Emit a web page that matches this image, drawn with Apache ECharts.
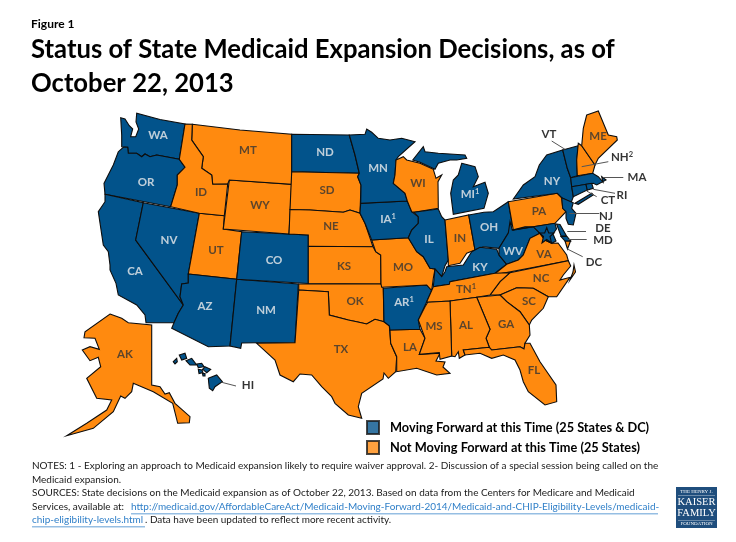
<!DOCTYPE html>
<html>
<head>
<meta charset="utf-8">
<title>Status of State Medicaid Expansion Decisions</title>
<script src="https://cdn.jsdelivr.net/npm/echarts@6/dist/echarts.min.js"></script>
<style>
  html, body { margin: 0; padding: 0; background: #fff; }
  #chart { width: 736px; height: 542px; }
</style>
</head>
<body>
<div id="chart"></div>
<script>
// state status
var movingForward = ['WA', 'OR', 'CA', 'NV', 'AZ', 'NM', 'CO', 'ND', 'MN', 'IA', 'AR', 'IL', 'MI', 'OH', 'KY', 'WV',
  'MD', 'DE', 'NJ', 'NY', 'VT', 'MA', 'RI', 'CT', 'HI', 'DC'];
var notMovingForward = ['AK', 'ID', 'MT', 'WY', 'UT', 'SD', 'NE', 'KS', 'OK', 'TX', 'MO', 'LA', 'WI', 'IN', 'TN', 'MS',
  'AL', 'GA', 'FL', 'SC', 'NC', 'VA', 'PA', 'NH', 'ME'];
var footnotes = { IA: 1, MI: 1, AR: 1, TN: 1, NH: 2 };
var outsideLabels = ['VT', 'NH', 'MA', 'RI', 'CT', 'NJ', 'DE', 'MD', 'DC', 'HI'];

var movingName = 'Moving Forward at this Time (25 States & DC)';
var notMovingName = 'Not Moving Forward at this Time (25 States)';

// outlines, in page pixels
var stateShapes = {
  WA: [[[120.7,117.7],[125,119],[129.3,125.7],[132.7,129],[130.7,136.7],[135.7,136.7],[138.7,129],[136,122],[136.7,113.3],[160,119.5],[185,124],[179.3,159.3],[156.7,155],[150,156.7],[145,154],[141.7,156.7],[136.7,153.3],[128.3,153.3],[127.7,147.3],[121.7,146.7],[121.7,135]]],
  OR: [[[123.3,147.3],[127.7,147.3],[128.3,153.3],[136.7,153.3],[141.7,156.7],[145,154],[150,156.7],[156.7,155],[179.3,159.3],[185,167.3],[177.3,175],[177.3,185],[170.7,206.7],[105,194.3],[104,183.3],[113.3,165],[118.3,151.7]]],
  CA: [[[105,194.3],[143.3,202.7],[135.7,240],[183.3,305],[178.3,313.3],[174,322.7],[146,322.7],[145,315],[136.7,305],[118.3,295],[116,283.3],[110,270],[110,265],[108.3,251.7],[103.3,245],[98.3,211.7],[105,201.7]]],
  NV: [[[143.3,202.7],[199.3,213.3],[188.3,274],[188.3,283],[181.7,284],[180,296.7],[183.3,305],[135.7,240]]],
  UT: [[[199.3,213.3],[224.3,215.7],[223.3,229],[241.7,231.7],[236.7,279.3],[188.3,274]]],
  AZ: [[[188.3,274],[236.7,279.3],[230,346],[208.3,346.7],[171.7,328.3],[174,322.7],[178.3,313.3],[183.3,305],[180,296.7],[181.7,284],[188.3,283]]],
  NM: [[[236.7,279.3],[298.3,284],[295,342.7],[256.7,342.7],[241.7,343],[240.7,348.3],[230,346]]],
  CO: [[[241.7,231.7],[308.3,235],[308.3,283.5],[236.7,279.3]]],
  WY: [[[229.3,180],[291.7,184.3],[289,234],[223.3,229]]],
  MT: [[[192.3,124.3],[240,130],[291.7,134.3],[291.7,184.3],[229.3,180],[227.7,184],[212.7,184.3],[211.7,175],[201.7,168.3],[203.3,156.7],[191.7,140]]],
  ID: [[[185,124],[192.3,124.3],[191.7,140],[203.3,156.7],[201.7,168.3],[211.7,175],[212.7,184.3],[227.7,184],[224.3,215.7],[199.3,213.3],[170.7,206.7],[177.3,185],[177.3,175],[185,167.3],[179.3,159.3]]],
  ND: [[[291.7,134.3],[349.3,135],[355,155],[359.3,173.3],[291.7,171.7]]],
  SD: [[[291.7,171.7],[359.3,173.3],[357.7,176.7],[361,185],[360,213.3],[350,210],[343.3,212.3],[310,210],[290,209.5]]],
  NE: [[[290,209.5],[310,210],[343.3,212.3],[350,210],[360,213.3],[365,223.3],[373,246.7],[308.3,246.3],[308.3,235],[289,234]]],
  KS: [[[308.3,246.3],[373,246.7],[375.7,251.7],[380.7,255],[381,284],[308.3,283.5]]],
  OK: [[[298.7,284],[381,284],[383.3,288.3],[384,321.7],[375,319.3],[366.7,324],[356.7,321.7],[348.3,320],[329.3,315],[328.3,291.7],[298.7,290]]],
  TX: [[[298.7,290],[328.3,291.7],[329.3,315],[348.3,320],[356.7,321.7],[366.7,324],[375,319.3],[384,321.7],[389.3,325.7],[390.7,343.3],[396.7,356.7],[395.7,371.7],[388.3,378.3],[384,373],[383,379],[361.7,393.3],[358.3,406.7],[361.7,418.3],[348.3,415],[335,403.3],[331.7,396.7],[321.7,386.7],[311.7,375],[300,374],[293.3,381.7],[280,375],[275,360],[256.7,343.3],[295,342.7]]],
  LA: [[[390,330],[420,329.3],[425,338.3],[419.3,354.3],[440,353.3],[436,361],[445,362],[443,367],[450,373.3],[436.7,375],[416.7,368.3],[396.7,371.7],[396.7,356.7],[390.7,343.3]]],
  AR: [[[383.3,288.3],[426.7,285],[431.7,290.5],[426.7,301.7],[418.3,320],[420,329.3],[390,330],[389.3,325.7],[384,321.7]]],
  MO: [[[371.7,240],[408.3,237.7],[416.7,251.7],[423.3,256.7],[430,268.3],[435,269],[433.3,278.3],[431.7,290.5],[426.7,285],[381.7,287.3],[381,284],[380.7,255],[375.7,251.7]]],
  IA: [[[360.7,203.3],[407.3,201],[411.7,211.7],[418.3,216.7],[418.3,223.3],[411.7,230],[408.3,237.7],[371.7,240],[365,223.3],[360,213.3]]],
  MN: [[[349.3,135],[365,134.3],[366.7,129],[371.7,132.3],[378.3,138.3],[390,140],[401.7,138.3],[415,141.7],[398.3,156.7],[396,160],[395,175],[393.3,183.3],[405,193.3],[407.3,201],[360.7,203.3],[361,185],[357.7,176.7],[359.3,173.3],[355,155]]],
  WI: [[[396,160],[403.3,156.7],[406.7,160],[420,163.3],[433.3,169.3],[436,178.3],[441.7,175],[438,181.7],[438.3,208.3],[414,212.3],[411.7,211.7],[407.3,201],[405,193.3],[393.3,183.3],[395,175]]],
  MI: [[[412.7,160],[423.3,146.7],[425,151.7],[438.3,153.3],[465,155],[466.7,158.3],[456.7,160],[450,160],[438.3,163.3],[435,169.3],[420,162.3]],
       [[461.7,163.3],[475,166.7],[478.3,176.7],[473.3,186.7],[485,182.3],[488.3,193.3],[484,208.3],[453.3,214.3],[450.7,193.3],[453.3,180],[458.3,175]]],
  IL: [[[414,212.3],[438.3,209],[441.7,216.7],[445,220],[448.3,260],[445,265.7],[441.7,276.7],[435,269],[430,268.3],[423.3,256.7],[416.7,251.7],[408.3,237.7],[411.7,230],[418.3,223.3],[418.3,216.7]]],
  IN: [[[445,220],[468.7,215],[475,250],[466.7,253.3],[460,263.3],[448.3,265.7],[448.3,260]]],
  OH: [[[468.7,215],[484,212.3],[493.3,211.7],[508.3,201.7],[512,223],[508.3,233],[499,248.3],[483.3,246.7],[475,250]]],
  KY: [[[441.7,276.7],[445,271.7],[446.7,266.7],[463.3,265],[471.7,251.7],[480,247.3],[496.7,249.3],[499,255],[506.7,264.3],[495,273.3],[450,281.7],[449.3,284.3],[433.3,286.7],[435,269]]],
  WV: [[[499,248.3],[508.3,233],[510,221.7],[512.3,230],[525,226.7],[533.3,226.7],[540,233.3],[530,238.3],[523.3,255],[518.3,260],[506.7,264.3],[499,255]]],
  VA: [[[493.3,275],[506.7,264.3],[518.3,260],[523.3,255],[530,238.3],[540,233.3],[545,240],[551.7,243.3],[558,243],[561.7,248],[566.7,255],[568.3,260.7]],
       [[565,241],[570.5,241],[567.5,249]]],
  NC: [[[490,295],[500,281.7],[510,272.7],[568.3,260.7],[570.7,266],[563.3,275],[560,280],[570,277.3],[556.7,296.7],[548.3,296.7],[533.3,288.3],[516.7,287.7],[500,295]],
       [[574,265],[575.5,272],[570,280],[569,279],[573,272]]],
  TN: [[[431.7,290.5],[433.3,286.7],[449.3,284.3],[450,281.7],[495,273.3],[510,272.7],[500,281.7],[490,295],[476.7,297.3],[450,301],[427.7,302.3],[426.7,301.7]]],
  SC: [[[500,295],[516.7,287.7],[533.3,288.3],[548.3,296.7],[543.3,308.3],[531.7,320],[529.3,325],[520,311.7],[506.7,301.7]]],
  GA: [[[476.7,297.3],[500,295],[506.7,301.7],[520,311.7],[529.3,325],[530,335],[525,343.3],[524,349],[520,346.7],[491.7,350],[489.3,347.3],[486,338.3],[490,329.3]]],
  AL: [[[450,301],[476.7,297.3],[490,329.3],[486,338.3],[489.3,347.3],[463.3,350],[465,355],[459.3,358.3],[458.3,351.7],[455,356.7],[451.7,356]]],
  MS: [[[427.7,302.3],[450,301],[451.7,356],[440,359.3],[439.3,352.7],[419.3,354.3],[425,338.3],[418.3,320],[425,306.7]]],
  FL: [[[463.3,350],[489.3,347.3],[491.7,350],[520,346.7],[524,349],[525,343.3],[530,343.3],[540,361.7],[556,385],[556.7,401.7],[545,405],[528.3,391.7],[523.3,381.7],[520,370],[515,360],[503.3,355],[491.7,358.3],[480,353.3],[465,355]]],
  PA: [[[508.3,201.7],[557.3,193.3],[561.7,197.7],[562.7,208.3],[566,211.7],[555,223.3],[513.3,230]]],
  NY: [[[513.3,199],[523.3,185],[535,176.7],[539.3,165],[546.7,155],[562.7,150],[567.3,168.3],[570.7,177.7],[571.7,186.7],[573.3,196.7],[571,203],[561.7,197.7],[557.3,193.3]],
       [[575,203.3],[591.7,193.3],[593.3,195],[578.3,204.3]]],
  VT: [[[562.7,150],[578.3,145.7],[576.7,160],[577.3,175.7],[570.7,177.7],[567.3,168.3]]],
  NH: [[[578.3,143.3],[581.7,145.7],[595,165],[592.7,173.3],[577.3,175.7],[576.7,160]]],
  ME: [[[586.7,115],[598.3,111],[608.3,135],[616.7,136.7],[617.3,140],[598.3,158.3],[595,165],[581.7,145.7],[583.3,128.3]]],
  MA: [[[570.7,177.7],[592.7,173.3],[598.3,176.7],[603,182],[601.7,176.7],[606,180],[596.7,185],[593.3,183.3],[571.7,186.7]]],
  CT: [[[571.7,186.7],[586,184.3],[587.3,190],[573.3,196.7]]],
  RI: [[[586,184.3],[591.7,183.3],[593.3,188.3],[587.3,190]]],
  NJ: [[[561.7,197.7],[573.3,202.7],[571.7,208.3],[576,213.3],[573.3,225],[568.3,224.3],[566,218.3],[566,211.7],[562.7,208.3]]],
  DE: [[[556.5,224],[560,224.5],[566.5,236],[561,236]]],
  MD: [[[512.3,230],[555,223.3],[556.5,229],[553,234],[556,241],[551.7,243.3],[545,240],[540,233.3],[533.3,226.7],[525,226.7]],
       [[561,236.5],[567,236.5],[570.7,241],[565,241]]],
  HI: [[[208.3,378.3],[216.7,375],[222.3,381.7],[215,386.7],[212.7,390.7],[209.3,388.3]],
       [[205,366.7],[210.7,369.3],[206.7,372.7],[202.7,369.3]],
       [[198.3,369.3],[202,370],[203,372.5],[199,373.5]],
       [[196.7,364],[201.7,363.3],[204,366.7],[198.3,367.7]],
       [[202.5,373.5],[205,373.5],[205,376],[203,376]],
       [[186,360.7],[191.7,358.3],[196.7,365],[190,365]],
       [[179.3,355],[185,353.3],[186.7,358.3],[181.7,360]],
       [[173.3,361.7],[176.7,358.3],[177.3,361.7],[175,364]]],
  AK: [[[110,314],[121.7,318.3],[128.3,322.7],[151.7,325],[151.7,385],[160,386.7],[165,394],[169.3,392.7],[175,403.3],[190,416.7],[189.3,422.7],[177.7,423.3],[172.7,403.3],[153.3,391.7],[133.3,383.3],[131.7,391.7],[125,398.3],[120.7,396],[113.3,411.7],[93.3,428.3],[66.7,435.7],[86.7,423.3],[106.7,410],[111.7,400],[96.7,398.3],[86.7,378.3],[100.7,366.7],[98.3,357.3],[90,360.7],[82.3,350],[90,346.7],[99.3,349.3],[95,338.3],[84,337.7],[85,331.7]]],
  DC: [[[546.7,227.5],[548.7,233],[554,233],[550,236.5],[551.5,243],[546.7,239.5],[542,243],[543.5,236.5],[539.5,233],[544.7,233]]]
};

// where each state name sits
var labelAt = {
  WA: [158,135], OR: [146,182], CA: [135,271], NV: [169,240], ID: [201,192], MT: [248,150], WY: [260,205], UT: [216,250],
  CO: [274,260], AZ: [205,306], NM: [266,310], ND: [325,152], SD: [327,190], NE: [331,226], KS: [344,266], OK: [355,301],
  TX: [341,349], MN: [378,168], IA: [388,219], MO: [403,267], AR: [404,302], LA: [410,347], WI: [418,183], IL: [429,239],
  MI: [470,194], IN: [460,238], OH: [489,227], KY: [480,267], TN: [466,289], MS: [434,326], AL: [466,325], GA: [506,324],
  SC: [529,301], NC: [541,278], VA: [544,254], WV: [513,251], PA: [539,211], NY: [552,181], FL: [534,370], AK: [125,354],
  ME: [598,136], VT: [549,134], NH: [622,157], MA: [637,177], RI: [622,195], CT: [608,200], NJ: [606,216], DE: [603,228],
  MD: [603,240], DC: [594,262], HI: [248,385]
};

var leaderLines = [
  [[551.7,141],[565,149.3]], [[608.3,161.7],[581.7,166.7]], [[623.3,177.7],[603.3,177.7]], [[615,193.3],[593.3,189.3]],
  [[596.7,196.7],[586.7,191]], [[599.3,213.3],[569.3,213.3]], [[586,231],[567.3,231]], [[586.7,239],[568.3,239]],
  [[582.7,256.7],[567.3,249]], [[236,386],[221.7,382.3]]
];

var BLUE = '#02538b';
var ORANGE = '#ff8a0f';
var FONT = 'Lato';

var features = [];
var minX = 1e9, minY = 1e9, maxX = -1e9, maxY = -1e9;
for (var name in stateShapes) {
  var polys = stateShapes[name];
  for (var i = 0; i < polys.length; i++) {
    for (var j = 0; j < polys[i].length; j++) {
      minX = Math.min(minX, polys[i][j][0]);
      maxX = Math.max(maxX, polys[i][j][0]);
      minY = Math.min(minY, polys[i][j][1]);
      maxY = Math.max(maxY, polys[i][j][1]);
    }
  }
  features.push({
    type: 'Feature',
    properties: { name: name },
    geometry: { type: 'MultiPolygon', coordinates: polys.map(function (p) { return [p]; }) }
  });
}
echarts.registerMap('usStates', { type: 'FeatureCollection', features: features });

function regionsOf(list, color) {
  return list.map(function (s) {
    return { name: s, itemStyle: { areaColor: color } };
  });
}

function labelsOf(list, textColor) {
  return list.map(function (s) {
    var outside = outsideLabels.indexOf(s) >= 0;
    return { name: s, value: labelAt[s], label: { color: outside ? '#000' : textColor } };
  });
}

function labelText(p) {
  if (footnotes[p.name]) {
    return '{n|' + p.name + '}{s|' + footnotes[p.name] + '}';
  }
  return p.name;
}

function stateLabelSeries(seriesName, list, color, textColor) {
  return {
    type: 'scatter',
    name: seriesName,
    coordinateSystem: 'geo',
    symbol: 'rect',
    symbolSize: 0,
    silent: true,
    z: 5,
    itemStyle: { color: color, borderColor: '#1a1a1a', borderWidth: 1 },
    label: {
      show: true,
      position: 'inside',
      formatter: labelText,
      fontFamily: FONT,
      fontWeight: 'bold',
      fontSize: 11.5,
      textBorderWidth: 0,
      rich: {
        n: { color: textColor, fontFamily: FONT, fontWeight: 'bold', fontSize: 11.5 },
        s: { color: textColor, fontFamily: FONT, fontSize: 7.5, verticalAlign: 'top', padding: [0, 0, 3, 0] }
      }
    },
    data: labelsOf(list, textColor)
  };
}

var myChart = echarts.init(document.getElementById('chart'), null, { renderer: 'canvas' });

var option = {
  backgroundColor: '#fff',
  animation: false,
  title: {
    text: 'Figure 1', left: 26, top: 13,
    textStyle: { fontFamily: FONT, fontWeight: 'bold', fontSize: 12, color: '#000' }
  },
  legend: {
    left: 361, top: 415, orient: 'vertical',
    itemWidth: 12, itemHeight: 13, itemGap: 5,
    selectedMode: false,
    icon: 'rect',
    textStyle: { fontFamily: FONT, fontWeight: 'bold', fontSize: 12.75, color: '#000', padding: [0, 0, 0, 6] },
    data: [movingName, notMovingName]
  },
  geo: {
    map: 'usStates',
    projection: {
      project: function (p) { return p; },
      unproject: function (p) { return p; }
    },
    left: minX, top: minY, width: maxX - minX, height: maxY - minY,
    roam: false,
    silent: true,
    label: { show: false },
    itemStyle: { areaColor: BLUE, borderColor: '#0d0d0d', borderWidth: 1.1 },
    regions: regionsOf(movingForward, BLUE).concat(regionsOf(notMovingForward, ORANGE))
  },
  series: [
    {
      type: 'lines',
      coordinateSystem: 'geo',
      silent: true,
      z: 4,
      lineStyle: { color: '#555', width: 1, opacity: 1 },
      data: leaderLines.map(function (l) { return { coords: l }; })
    },
    stateLabelSeries(movingName, movingForward, BLUE === '' ? '' : '#fff'),
    stateLabelSeries(notMovingName, notMovingForward, '#000')
  ],
  graphic: []
};

// series colours for the legend squares
option.series[1].itemStyle.color = BLUE;
option.series[2].itemStyle.color = ORANGE;

// main heading, Lato squeezed a little to sit like the original
option.graphic.push({
  type: 'text', x: 31, y: 32, scaleX: 0.95,
  style: {
    text: 'Status of State Medicaid Expansion Decisions, as of\nOctober 22, 2013',
    fontFamily: FONT, fontWeight: 'bold', fontSize: 27, lineHeight: 34, fill: '#000'
  }
});

var noteStyle = { fontFamily: FONT, fontSize: 9.97, fill: '#1a1a1a' };
var noteLines = [
  'NOTES: 1 - Exploring an approach to Medicaid expansion likely to require waiver approval. 2- Discussion of a special session being called on the',
  'Medicaid expansion.',
  'SOURCES: State decisions on the Medicaid expansion as of October 22, 2013. Based on data from the Centers for Medicare and Medicaid'
];
var noteY = [461, 475, 488];
noteLines.forEach(function (t, i) {
  option.graphic.push({ type: 'text', left: 32, top: noteY[i], style: Object.assign({ text: t }, noteStyle) });
});

var LINK = '#2f7fc8';
option.graphic.push({ type: 'text', left: 32, top: 502, style: Object.assign({ text: 'Services, available at:' }, noteStyle) });
option.graphic.push({
  type: 'text', left: 131, top: 502,
  style: Object.assign({}, noteStyle, { text: 'http://medicaid.gov/AffordableCareAct/Medicaid-Moving-Forward-2014/Medicaid-and-CHIP-Eligibility-Levels/medicaid-', fill: LINK })
});
option.graphic.push({ type: 'rect', shape: { x: 131, y: 513.5, width: 527, height: 0.8 }, style: { fill: LINK } });
option.graphic.push({
  type: 'text', left: 32, top: 515,
  style: Object.assign({}, noteStyle, { text: 'chip-eligibility-levels.html', fill: LINK })
});
option.graphic.push({ type: 'rect', shape: { x: 32, y: 526.5, width: 113, height: 0.8 }, style: { fill: LINK } });
option.graphic.push({
  type: 'text', left: 145, top: 515,
  style: Object.assign({ text: '. Data have been updated to reflect more recent activity.' }, noteStyle)
});

// foundation logo, lower right
option.graphic.push({ type: 'rect', shape: { x: 676, y: 487, width: 41, height: 41 }, style: { fill: '#1f4e7d' } });
option.graphic.push({ type: 'rect', shape: { x: 678, y: 495.5, width: 37, height: 0.5 }, style: { fill: '#b9c8d8' } });
option.graphic.push({ type: 'rect', shape: { x: 678, y: 520, width: 37, height: 0.5 }, style: { fill: '#b9c8d8' } });
var logoText = [
  { t: 'THE HENRY J.', y: 491.7, s: 5 },
  { t: 'KAISER', y: 502.5, s: 10.5 },
  { t: 'FAMILY', y: 513.5, s: 10.5 },
  { t: 'FOUNDATION', y: 524, s: 5 }
];
logoText.forEach(function (l) {
  option.graphic.push({
    type: 'text', x: 696.5, y: l.y,
    style: { text: l.t, fontFamily: 'Liberation Serif', fontSize: l.s, fill: '#fff', textAlign: 'center', textVerticalAlign: 'middle' }
  });
});

myChart.setOption(option);
</script>
</body>
</html>
